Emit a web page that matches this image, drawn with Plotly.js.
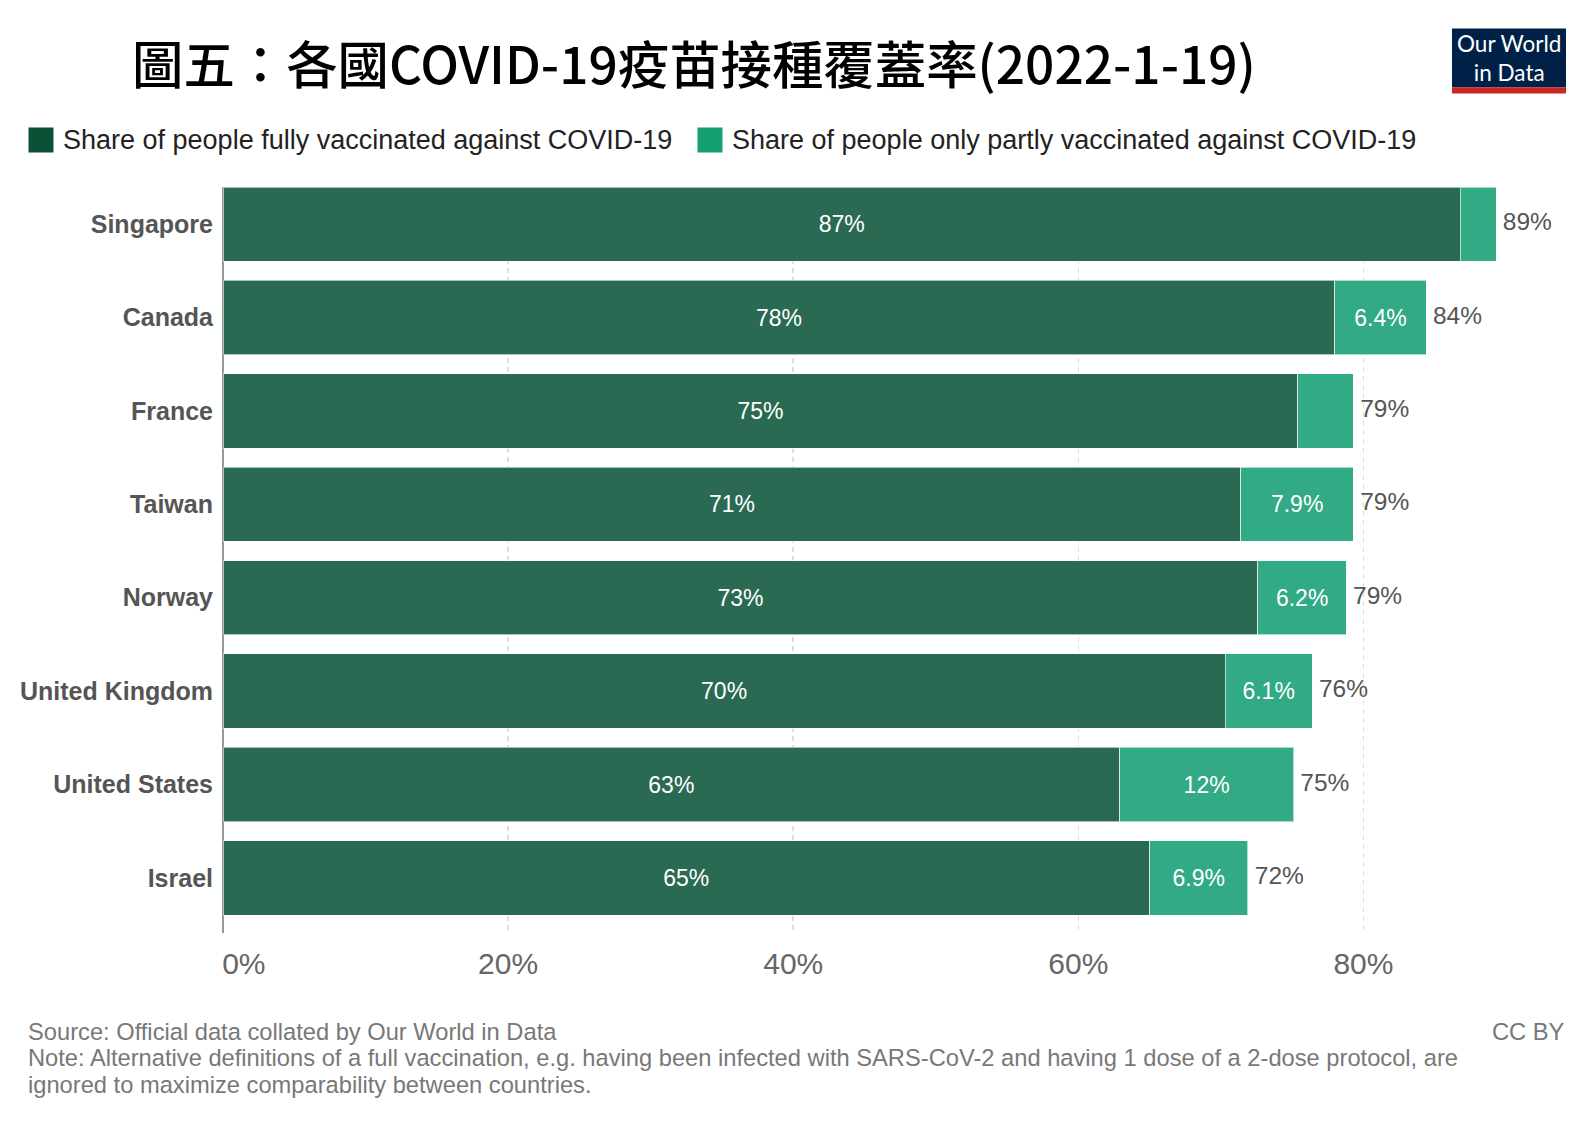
<!DOCTYPE html>
<html>
<head>
<meta charset="utf-8">
<script src="https://cdn.plot.ly/plotly-3.0.1.min.js"></script>
<style>
  html, body { margin: 0; padding: 0; background: #fff; }
  #chart { width: 1594px; height: 1125px; }
</style>
</head>
<body>
<div id="chart"></div>
<script>
// values, in percent
var countries = ['Singapore', 'Canada', 'France', 'Taiwan', 'Norway', 'United Kingdom', 'United States', 'Israel'];
var fully = [86.8, 78.0, 75.4, 71.4, 72.6, 70.3, 62.9, 65.0];
var partly = [2.5, 6.4, 3.9, 7.9, 6.2, 6.1, 12.2, 6.9];
var xTicks = [0, 20, 40, 60, 80];

var darkGreen = '#2a6a52';
var lightGreen = '#31aa85';
var sans = 'Liberation Sans, Arial, sans-serif';

// plot area in pixels, used to place the page furniture
var W = 1594, H = 1125;
var m = { l: 223, r: 31, t: 187, b: 192 };
function px(x) { return (x - m.l) / (W - m.l - m.r); }
function py(y) { return 1 - (y - m.t) / (H - m.t - m.b); }

function fmt(v) {
    return (v < 10 ? v.toFixed(1) : Math.round(v)) + '%';
}

var totals = [];
for (var i = 0; i < countries.length; i++) {
    totals.push(fully[i] + partly[i]);
}

var traceFull = {
    type: 'bar',
    orientation: 'h',
    y: countries,
    x: fully,
    name: 'Share of people fully vaccinated against COVID-19',
    marker: { color: darkGreen, line: { color: 'rgba(255,255,255,0.6)', width: 1 } },
    text: fully.map(function(v) { return Math.round(v) + '%'; }),
    textposition: 'inside',
    insidetextanchor: 'middle',
    textangle: 0,
    insidetextfont: { family: sans, size: 23, color: '#ffffff' },
    hoverinfo: 'none'
};

var tracePartly = {
    type: 'bar',
    orientation: 'h',
    y: countries,
    x: partly,
    name: 'Share of people only partly vaccinated against COVID-19',
    marker: { color: lightGreen, line: { color: 'rgba(255,255,255,0.6)', width: 1 } },
    text: partly.map(function(v) { return v >= 5 ? fmt(v) : ''; }),
    textposition: 'inside',
    insidetextanchor: 'middle',
    textangle: 0,
    insidetextfont: { family: sans, size: 23, color: '#ffffff' },
    hoverinfo: 'none'
};

var traceTotal = {
    type: 'scatter',
    mode: 'text',
    y: countries,
    x: totals,
    text: totals.map(function(v) { return '\u00a0' + Math.round(v) + '%'; }),
    textposition: 'middle right',
    textfont: { family: sans, size: 24.5, color: '#555555' },
    cliponaxis: false,
    hoverinfo: 'none'
};

var greyFont = { family: sans, size: 23.7, color: '#787878' };
var legendFont = { family: sans, size: 27, color: '#222222' };

var layout = {
    width: W,
    height: H,
    margin: m,
    paper_bgcolor: '#ffffff',
    plot_bgcolor: '#ffffff',
    barmode: 'stack',
    bargap: 0.205,
    showlegend: false,
    xaxis: {
        range: [0, 94],
        tickvals: xTicks,
        ticktext: xTicks.map(function(v) {
            return v === 0 ? '\u00a0\u00a0\u00a0\u00a0\u00a00%' : v + '%';
        }),
        layer: 'above traces',
        showgrid: true,
        gridcolor: 'rgba(0,0,0,0.13)',
        gridwidth: 1.5,
        griddash: '5px,4px',
        zeroline: true,
        zerolinecolor: '#999999',
        zerolinewidth: 1.5,
        showline: false,
        ticks: '',
        ticklabelstandoff: 10,
        tickfont: { family: sans, size: 30, color: '#666666' },
        fixedrange: true
    },
    yaxis: {
        type: 'category',
        range: [7.59, -0.3975],
        showgrid: false,
        zeroline: false,
        showline: false,
        ticks: '',
        ticklabelstandoff: 9,
        tickfont: { family: sans, size: 25, color: '#555555', weight: 'bold' },
        fixedrange: true
    },
    shapes: [
        // legend squares
        { type: 'rect', xref: 'paper', yref: 'paper', x0: px(28.5), x1: px(53.5), y0: py(127.5), y1: py(152.5),
          fillcolor: '#0b5136', line: { width: 0 } },
        { type: 'rect', xref: 'paper', yref: 'paper', x0: px(697.5), x1: px(722.5), y0: py(127.5), y1: py(152.5),
          fillcolor: '#14a073', line: { width: 0 } },
        // logo
        { type: 'rect', xref: 'paper', yref: 'paper', x0: px(1452), x1: px(1566), y0: py(28.5), y1: py(87.5),
          fillcolor: '#002147', line: { width: 0 } },
        { type: 'rect', xref: 'paper', yref: 'paper', x0: px(1452), x1: px(1566), y0: py(87.5), y1: py(93.5),
          fillcolor: '#ce261e', line: { width: 0 } }
    ],
    annotations: [
        { text: '圖五：各國COVID-19疫苗接種覆蓋率(2022-1-19)', xref: 'paper', yref: 'paper',
          x: px(130), y: py(61), xanchor: 'left', yanchor: 'middle', showarrow: false,
          font: { family: 'Noto Sans CJK TC, sans-serif', size: 51.4, color: '#000000', weight: 500 } },
        { text: 'Share of people fully vaccinated against COVID-19', xref: 'paper', yref: 'paper',
          x: px(61), y: py(140), xanchor: 'left', yanchor: 'middle', showarrow: false, font: legendFont },
        { text: 'Share of people only partly vaccinated against COVID-19', xref: 'paper', yref: 'paper',
          x: px(730), y: py(140), xanchor: 'left', yanchor: 'middle', showarrow: false, font: legendFont },
        { text: 'Our World<br>in Data', xref: 'paper', yref: 'paper',
          x: px(1509), y: py(58), xanchor: 'center', yanchor: 'middle', showarrow: false,
          font: { family: 'Lato, sans-serif', size: 22.5, color: '#ffffff' } },
        { text: 'Source: Official data collated by Our World in Data', xref: 'paper', yref: 'paper',
          x: px(26), y: py(1032), xanchor: 'left', yanchor: 'middle', showarrow: false, font: greyFont },
        { text: 'Note: Alternative definitions of a full vaccination, e.g. having been infected with SARS-CoV-2 and having 1 dose of a 2-dose protocol, are',
          xref: 'paper', yref: 'paper', x: px(26), y: py(1058), xanchor: 'left', yanchor: 'middle',
          showarrow: false, font: greyFont },
        { text: 'ignored to maximize comparability between countries.', xref: 'paper', yref: 'paper',
          x: px(26), y: py(1085), xanchor: 'left', yanchor: 'middle', showarrow: false, font: greyFont },
        { text: 'CC BY', xref: 'paper', yref: 'paper',
          x: px(1567), y: py(1032), xanchor: 'right', yanchor: 'middle', showarrow: false, font: greyFont }
    ]
};

Plotly.newPlot('chart', [traceFull, tracePartly, traceTotal], layout, { displayModeBar: false, staticPlot: true });
</script>
</body>
</html>
